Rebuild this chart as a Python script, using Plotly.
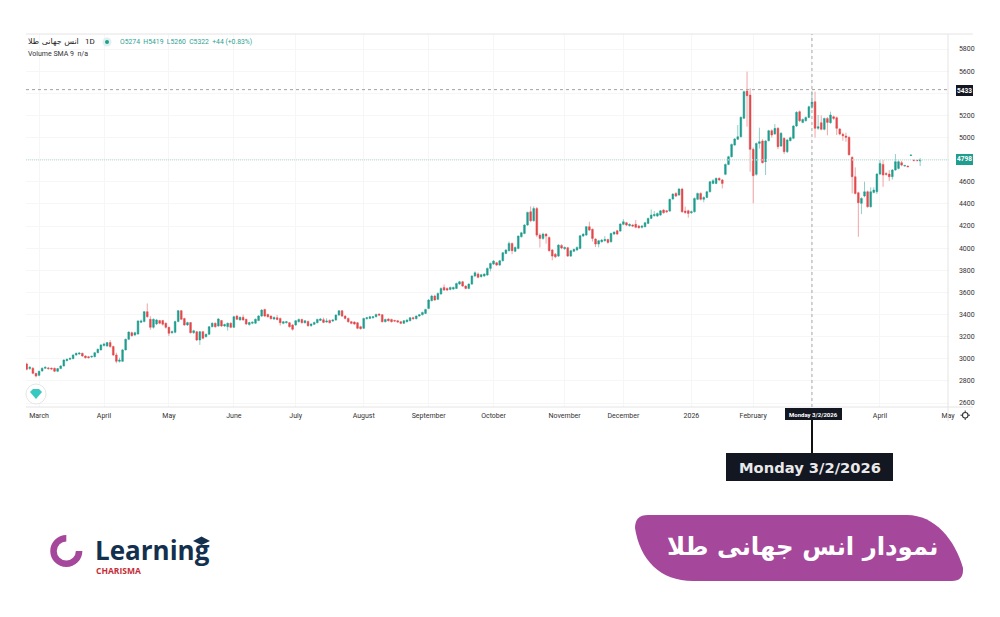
import pandas as pd
import plotly.graph_objects as go

open_prices = [
    2953,2911,2914,2868,2850,2890,2914,2917,2914,2914,
    2887,2911,2935,2983,2995,3001,3034,3043,3049,3025,
    3019,3016,3019,3055,3080,3119,3116,3146,3110,3034,
    2977,2977,3080,3176,3236,3215,3224,3330,3336,3426,
    3357,3284,3315,3345,3345,3321,3284,3236,3239,3336,
    3435,3363,3306,3327,3236,3245,3170,3245,3200,3221,
    3290,3321,3296,3345,3296,3290,3321,3284,3387,3351,
    3375,3357,3309,3321,3321,3345,3386,3446,3401,3386,
    3359,3371,3365,3320,3326,3326,3305,3305,3335,3356,
    3326,3338,3299,3311,3326,3347,3353,3332,3347,3341,
    3350,3395,3434,3386,3365,3335,3332,3326,3290,3275,
    3362,3365,3371,3380,3404,3398,3335,3359,3356,3347,
    3344,3335,3320,3335,3344,3371,3362,3386,3398,3410,
    3455,3525,3567,3537,3585,3645,3636,3627,3630,3636,
    3675,3696,3657,3636,3675,3748,3766,3742,3748,3757,
    3817,3856,3868,3847,3886,3952,3977,4043,3971,3998,
    4103,4133,4209,4329,4248,4359,4118,4088,4127,4097,
    3983,3946,3928,4025,3995,4004,3928,3971,3983,3998,
    4109,4118,4194,4170,4082,4037,4058,4067,4079,4058,
    4127,4157,4154,4215,4230,4203,4209,4215,4200,4188,
    4194,4224,4269,4293,4290,4299,4344,4338,4335,4444,
    4495,4480,4534,4335,4338,4320,4329,4441,4495,4441,
    4459,4510,4585,4585,4631,4616,4667,4757,4827,4932,
    4984,5008,5174,5421,5384,4893,4667,4947,4969,4782,
    4972,5062,5032,5083,4923,4993,4872,4972,4993,5104,
    5234,5137,5152,5182,5274,5324,5083,5134,5074,5173,
    5134,5188,5179,5077,5029,5014,5002,4821,4646,4501,
    4405,4471,4510,4375,4504,4510,4670,4757,4676,4670,
    4646,4706,4721,4773,4742,4742,4838,4797,4794,4788,
]
high_prices = [
    2965,2935,2925,2872,2892,2922,2930,2926,2922,2920,
    2916,2942,2995,3003,3010,3040,3056,3058,3056,3030,
    3026,3028,3060,3092,3134,3145,3150,3168,3118,3055,
    3010,3090,3182,3248,3245,3245,3348,3355,3432,3500,
    3385,3365,3360,3352,3352,3328,3290,3255,3345,3440,
    3440,3372,3335,3332,3262,3252,3252,3252,3228,3295,
    3330,3328,3368,3352,3318,3328,3330,3388,3395,3382,
    3398,3362,3335,3338,3364,3395,3448,3452,3408,3392,
    3382,3396,3372,3342,3342,3332,3312,3350,3364,3362,
    3350,3345,3320,3335,3362,3368,3372,3366,3355,3358,
    3402,3440,3440,3392,3372,3342,3338,3332,3298,3370,
    3378,3388,3386,3408,3410,3404,3362,3366,3362,3352,
    3350,3340,3350,3358,3378,3380,3392,3405,3426,3452,
    3540,3578,3580,3598,3645,3672,3645,3652,3652,3688,
    3704,3704,3664,3682,3755,3790,3780,3768,3772,3826,
    3870,3892,3876,3892,3965,3990,4060,4050,4015,4115,
    4148,4216,4330,4378,4378,4372,4135,4140,4135,4105,
    3992,3955,4035,4035,4015,4012,3985,3996,4015,4120,
    4135,4200,4239,4178,4090,4075,4085,4109,4085,4140,
    4152,4165,4225,4262,4238,4224,4216,4254,4210,4208,
    4238,4276,4350,4335,4322,4345,4352,4345,4448,4496,
    4505,4545,4546,4375,4348,4340,4458,4502,4505,4468,
    4518,4606,4625,4638,4640,4625,4765,4835,4945,4995,
    5113,5190,5425,5595,5445,4910,4955,5089,4985,4978,
    5070,5075,5122,5095,5050,5002,4988,5008,5112,5238,
    5245,5172,5190,5288,5419,5415,5204,5200,5180,5185,
    5234,5198,5190,5085,5044,5044,5010,4830,4730,4510,
    4460,4601,4520,4550,4550,4678,4797,4797,4685,4706,
    4715,4851,4800,4790,4752,4746,4844,4800,4798,4815,
]
low_prices = [
    2895,2900,2860,2832,2842,2882,2908,2902,2900,2880,
    2880,2906,2930,2976,2988,2996,3028,3036,3018,3002,
    3004,3008,3012,3050,3076,3112,3108,3100,3025,2960,
    2965,2970,3075,3170,3200,3205,3218,3322,3330,3370,
    3262,3272,3305,3312,3300,3272,3205,3225,3230,3330,
    3350,3298,3296,3228,3225,3160,3125,3175,3192,3215,
    3284,3280,3290,3288,3288,3254,3276,3278,3350,3345,
    3344,3305,3300,3312,3316,3340,3378,3378,3372,3355,
    3350,3348,3300,3312,3318,3282,3254,3298,3328,3318,
    3318,3290,3290,3304,3320,3340,3322,3325,3318,3332,
    3344,3388,3378,3356,3326,3312,3306,3268,3264,3270,
    3354,3358,3362,3374,3388,3328,3328,3336,3328,3334,
    3325,3312,3314,3328,3338,3355,3356,3380,3392,3404,
    3448,3520,3524,3530,3580,3614,3612,3618,3622,3630,
    3668,3650,3628,3628,3668,3740,3728,3735,3740,3750,
    3790,3848,3838,3840,3880,3946,3970,3945,3965,3990,
    4096,4126,4202,4235,4240,4100,4006,4075,4040,3970,
    3890,3910,3920,3990,3985,3920,3920,3964,3976,3990,
    4100,4112,4155,4060,4010,4007,4050,4060,4040,4050,
    4120,4120,4148,4208,4200,4195,4190,4180,4176,4178,
    4188,4218,4262,4285,4282,4292,4312,4320,4328,4438,
    4462,4474,4320,4310,4275,4310,4322,4434,4432,4415,
    4452,4504,4578,4578,4608,4540,4660,4750,4820,4925,
    4978,5000,5168,5098,4691,4405,4655,4900,4765,4661,
    4965,5000,5025,4895,4915,4850,4860,4965,4985,5096,
    5140,5130,5145,5175,5260,5000,5070,5065,5065,5020,
    5125,5160,5023,5020,4971,4962,4835,4495,4485,4103,
    4308,4460,4365,4365,4495,4490,4660,4555,4655,4607,
    4620,4700,4712,4740,4738,4732,4836,4788,4788,4742,
]
close_prices = [
    2905,2923,2868,2844,2887,2914,2923,2911,2908,2887,
    2911,2935,2989,2995,3004,3034,3049,3052,3025,3010,
    3010,3022,3055,3086,3125,3134,3146,3110,3034,2977,
    2989,3080,3176,3242,3209,3236,3342,3342,3426,3381,
    3284,3357,3351,3321,3312,3284,3230,3245,3336,3435,
    3357,3306,3327,3236,3254,3170,3245,3185,3221,3290,
    3321,3290,3360,3296,3309,3321,3284,3381,3357,3375,
    3351,3315,3327,3330,3357,3387,3440,3386,3380,3362,
    3374,3356,3326,3335,3335,3290,3266,3344,3356,3326,
    3344,3299,3314,3329,3356,3359,3329,3341,3326,3350,
    3395,3434,3386,3365,3335,3320,3314,3275,3272,3365,
    3371,3380,3380,3401,3395,3335,3356,3344,3335,3341,
    3332,3320,3344,3350,3371,3362,3386,3398,3419,3446,
    3531,3567,3531,3591,3636,3621,3621,3645,3645,3681,
    3696,3657,3636,3675,3748,3778,3736,3760,3766,3817,
    3862,3883,3847,3886,3959,3983,4043,3977,4007,4109,
    4139,4209,4323,4248,4359,4118,4088,4127,4109,3977,
    3928,3922,4028,4001,4007,3928,3977,3989,4007,4112,
    4127,4194,4163,4088,4037,4067,4073,4079,4052,4133,
    4145,4127,4218,4239,4209,4215,4200,4188,4185,4200,
    4230,4269,4299,4305,4314,4338,4320,4329,4441,4489,
    4471,4534,4329,4323,4314,4329,4450,4495,4441,4459,
    4510,4600,4610,4631,4616,4585,4757,4827,4938,4987,
    5008,5183,5415,5378,4893,4655,4947,4962,4773,4969,
    5062,5023,5083,4917,5038,4872,4978,4999,5104,5228,
    5152,5164,5182,5279,5322,5083,5098,5074,5173,5137,
    5204,5173,5083,5032,5017,5002,4845,4646,4495,4411,
    4450,4510,4375,4510,4525,4670,4766,4661,4667,4646,
    4706,4782,4782,4751,4748,4736,4842,4791,4791,4798,
]

holidays = ["2025-04-18", "2025-05-26", "2025-06-19", "2025-07-04", "2025-09-01",
            "2025-11-27", "2025-12-25", "2026-01-01", "2026-01-19", "2026-02-16", "2026-04-03"]
month_ticks = ["2025-03-03", "2025-04-01", "2025-05-01", "2025-06-02", "2025-07-01",
               "2025-08-01", "2025-09-02", "2025-10-01", "2025-11-03", "2025-12-01",
               "2026-01-02", "2026-02-02", "2026-03-02", "2026-04-01", "2026-05-04"]
# the March 2026 label sits under the crosshair date tag, so it stays blank
month_labels = ["March", "April", "May", "June", "July", "August", "September", "October",
                "November", "December", "2026", "February", "", "April", "May"]
price_ticks = list(range(2600, 6000, 200))
price_labels = ["" if p in (4800, 5400) else str(p) for p in price_ticks]

days = [d for d in pd.bdate_range("2025-02-25", "2026-05-29").strftime("%Y-%m-%d") if d not in holidays]
dates = days[:len(close_prices)]
cross_date = "2026-03-02"
cross_price = 5433
last_price = 4798

GREEN = "#1f9d8f"
RED = "#e2484b"
PURPLE = "#a5479a"
NAVY = "#14304f"
INK = "#131722"


def px(x):
    return x / 1000


def py(y):
    return 1 - y / 617


def svg(d):
    # path written in screen pixels, turned into paper coordinates
    out, is_x = [], True
    for tok in d.split():
        if tok.isalpha():
            out.append(tok)
            is_x = True
        else:
            out.append(str(px(float(tok)) if is_x else py(float(tok))))
            is_x = not is_x
    return " ".join(out)


def note(x, y, text, size=7, color="#333", family="Roboto", anchor="left", **kw):
    fig.add_annotation(xref="paper", yref="paper", x=px(x), y=py(y), text=text, showarrow=False,
                       xanchor=anchor, yanchor="middle", font=dict(size=size, color=color, family=family),
                       borderpad=0, **kw)


def shape_path(d, fill="rgba(0,0,0,0)", line="rgba(0,0,0,0)", width=0):
    fig.add_shape(type="path", xref="paper", yref="paper", path=svg(d), fillcolor=fill,
                  line=dict(color=line, width=width), layer="above")


def box(x0, y0, x1, y1, fill):
    fig.add_shape(type="rect", xref="paper", yref="paper", x0=px(x0), x1=px(x1), y0=py(y0), y1=py(y1),
                  fillcolor=fill, line_width=0, layer="above")


def rule(x0, y0, x1, y1, color="#e4e4e4", width=1):
    fig.add_shape(type="line", xref="paper", yref="paper", x0=px(x0), x1=px(x1), y0=py(y0), y1=py(y1),
                  line=dict(color=color, width=width), layer="above")


fig = go.Figure()
fig.add_trace(go.Candlestick(
    x=dates, open=open_prices, high=high_prices, low=low_prices, close=close_prices,
    increasing=dict(line=dict(color="rgba(31,157,143,0.55)", width=0.9), fillcolor=GREEN),
    decreasing=dict(line=dict(color="rgba(226,72,75,0.55)", width=0.9), fillcolor=RED),
    whiskerwidth=0, showlegend=False,
))

fig.update_layout(
    width=1000, height=617, autosize=False, margin=dict(l=0, r=0, t=0, b=0),
    paper_bgcolor="white", plot_bgcolor="white", showlegend=False, boxgap=0.2,
    xaxis=dict(
        domain=[px(26), px(948.5)], type="date", range=["2025-02-24 18:30", "2026-05-04 04:00"],
        rangeslider=dict(visible=False), automargin=False,
        rangebreaks=[dict(bounds=["sat", "mon"]), dict(values=holidays)],
        tickmode="array", tickvals=month_ticks, ticktext=month_labels, tickangle=0,
        ticks="outside", ticklen=2, tickcolor="white",
        tickfont=dict(size=7, color="#333", family="Roboto"),
        showgrid=True, gridcolor="#f6f6f6", gridwidth=1, zeroline=False, showline=False,
    ),
    yaxis=dict(
        domain=[py(407), py(34)], range=[2564, 5936], side="right", automargin=False,
        tickmode="array", tickvals=price_ticks, ticktext=price_labels,
        ticks="outside", ticklen=8, tickcolor="white",
        tickfont=dict(size=7, color="#333", family="Roboto"),
        showgrid=True, gridcolor="#f6f6f6", gridwidth=1, zeroline=False, showline=False,
    ),
)

# frame of the chart pane
rule(26, 34, 973, 34)
rule(26, 407, 973, 407)
rule(948, 34, 948, 421)

# crosshair and last price line
fig.add_hline(y=last_price, line=dict(color="#bfe3dd", width=1.3, dash="1px,1px"))
fig.add_hline(y=cross_price, line=dict(color="#a0a0a0", width=1, dash="3px,3px"))
fig.add_vline(x=cross_date, line=dict(color="#a8a8a8", width=1, dash="3px,3px"))

# price tags
box(956, 85, 973, 96, INK)
note(964.5, 90.5, "<b>5433</b>", size=6.5, color="white", anchor="center")
box(956, 154, 973, 165, GREEN)
note(964.5, 159.5, "<b>4798</b>", size=6.5, color="white", anchor="center")

# legend lines
note(27, 42, "انس جهانی طلا", size=8, color="#222", family="DejaVu Sans")
note(84, 42, "1D", size=8, color="#222")
fig.add_shape(type="circle", xref="paper", yref="paper", x0=px(102.5), x1=px(111.5), y0=py(46.5), y1=py(37.5),
              fillcolor="#dff1ee", line_width=0, layer="above")
fig.add_shape(type="circle", xref="paper", yref="paper", x0=px(105), x1=px(109), y0=py(44), y1=py(40),
              fillcolor=GREEN, line_width=0, layer="above")
note(119, 42, "O5274  H5419  L5260  C5322  +44 (+0.83%)", size=6.8, color="#2f9f92")
note(27, 54, "Volume SMA 9  n/a", size=7, color="#333")

# badge on the chart corner
fig.add_shape(type="circle", xref="paper", yref="paper", x0=px(26), x1=px(46), y0=py(404), y1=py(384),
              fillcolor="white", line=dict(color="#e6e6e6", width=1), layer="above")
shape_path("M 30 392 L 33 389 L 39 389 L 42 392 L 36 399 Z", fill="#37c9bf")

# crosshair date tag, call-out
box(785, 408, 842, 420, INK)
note(813.5, 414, "<b>Monday 3/2/2026</b>", size=6, color="white", anchor="center")
rule(812, 420, 812, 453, color="#111", width=2)
box(726, 453, 893, 481, INK)
note(809.5, 467, "<b>Monday 3/2/2026</b>", size=14.7, color="#e9e9e9", family="DejaVu Sans", anchor="center")

# settings gear
fig.add_shape(type="circle", xref="paper", yref="paper", x0=px(962.5), x1=px(968), y0=py(418), y1=py(412.5),
              line=dict(color="#333", width=1.1), layer="above")
for a, b, c, d in [(965.2, 410.5, 965.2, 412.5), (965.2, 418, 965.2, 420),
                   (960.5, 415.2, 962.5, 415.2), (968, 415.2, 970, 415.2)]:
    rule(a, b, c, d, color="#333", width=1)

# logo
shape_path("M 66.3 538.2 C 59.2 538.2 53.5 543.9 53.5 551 C 53.5 558.1 59.2 563.8 66.3 563.8 "
           "C 73.4 563.8 79.1 558.1 79.1 551", line=PURPLE, width=6.5)
note(94, 550, "<b>Learning</b>", size=26, color=NAVY, family="Open Sans")
note(94.5, 570, "<b>CHARISMA</b>", size=8.5, color="#c42d38", family="Open Sans")
shape_path("M 193 541 L 201.5 536.5 L 210 541 L 201.5 545 Z", fill=NAVY)

# title ribbon
shape_path("M 635 528 Q 635 515 648 515 L 907 515 C 935 515 955 540 963 568 L 963 570 Q 963 581 952 581 "
           "L 693 581 C 660 581 640 560 635 528 Z", fill=PURPLE)
note(802, 546, "<b>نمودار انس جهانی طلا</b>", size=24.4, color="white", family="DejaVu Sans", anchor="center")

fig.write_html("out.html", config=dict(displayModeBar=False), post_script="document.body.style.margin='0';")
